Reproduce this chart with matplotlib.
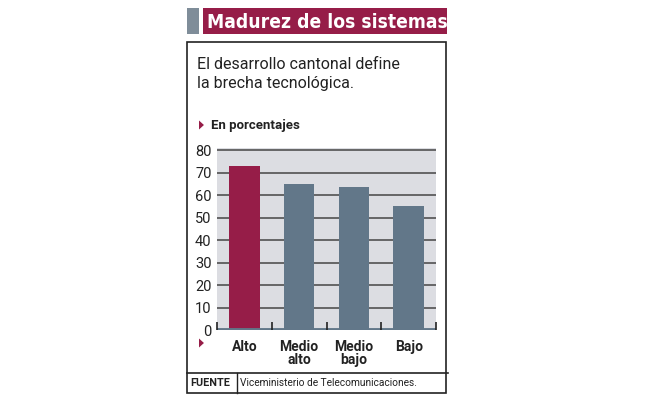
import matplotlib
matplotlib.use("Agg")
import matplotlib.pyplot as plt
from matplotlib.patches import Rectangle, Polygon
from matplotlib.lines import Line2D

# ── data ──
categories = ["Alto", "Medio\nalto", "Medio\nbajo", "Bajo"]
values = [73, 65, 63.5, 55]
y_ticks = [0, 10, 20, 30, 40, 50, 60, 70, 80]

title = "Madurez de los sistemas"
subtitle = "El desarrollo cantonal define\nla brecha tecnológica."
unit_label = "En porcentajes"
source = "Viceministerio de Telecomunicaciones."

# ── colours ──
MAGENTA = "#961d48"
SLATE = "#627789"
PANEL = "#dcdde2"
GRID = "#454545"
GREYBOX = "#7f8d99"
INK = "#222222"

plt.rcParams["font.family"] = ["Roboto", "DejaVu Sans"]

W, H = 653, 398
fig = plt.figure(figsize=(W / 100, H / 100), dpi=100)
fig.patch.set_facecolor("white")


def px(x, y):
    """pixel coords (origin top-left) -> figure fraction"""
    return x / W, 1 - y / H


def rect(x0, y0, x1, y1, **kw):
    (fx0, fy1), (fx1, fy0) = px(x0, y0), px(x1, y1)
    fig.add_artist(Rectangle((fx0, fy0), fx1 - fx0, fy1 - fy0,
                             transform=fig.transFigure, **kw))


def line(x0, y0, x1, y1, **kw):
    (a, b), (c, d) = px(x0, y0), px(x1, y1)
    fig.add_artist(Line2D([a, c], [b, d], transform=fig.transFigure, **kw))


def tri(x, y, s=4.5):
    pts = [px(x, y - s), px(x + s * 1.1, y), px(x, y + s)]
    fig.add_artist(Polygon(pts, closed=True, transform=fig.transFigure,
                           color=MAGENTA, lw=0))


# title bar
rect(187, 8, 199, 34, color=GREYBOX, lw=0)
rect(203, 8, 447, 34, color=MAGENTA, lw=0)
fig.text(*px(207, 22), title, color="white", fontsize=13.8, fontweight="bold",
         family="DejaVu Sans", fontstretch="condensed", va="center", ha="left")

# outer box
rect(187, 42, 446, 393, fill=False, edgecolor=INK, lw=1.2)
line(187, 373, 448, 373, color=INK, lw=1.2)
line(237, 373, 237, 393, color=INK, lw=1.0)

fig.text(*px(197, 74), subtitle, fontsize=11.5, color=INK,
         va="center", ha="left", linespacing=1.3)

tri(199, 125)
fig.text(*px(211, 125), unit_label, fontsize=9.5, fontweight="bold",
         color=INK, va="center", ha="left")

tri(199, 343)

fig.text(*px(190, 383), "FUENTE", fontsize=7.8, fontweight="bold",
         color=INK, va="center", ha="left")
fig.text(*px(240, 383), source, fontsize=7.3, color=INK,
         va="center", ha="left")

# ── chart ──
l, b = px(217, 330)
r, t = px(436, 148)
ax = fig.add_axes([l, b, r - l, t - b])
ax.set_facecolor(PANEL)
x = list(range(len(categories)))
ax.set_xlim(-0.5, len(categories) - 0.5)
ax.set_ylim(0, 80.9)

for v in y_ticks[1:]:
    ax.axhline(v, color=GRID, lw=1.1, zorder=1)

colors = [MAGENTA] + [SLATE] * (len(categories) - 1)
ax.bar(x, values, width=0.56, color=colors, zorder=2)

ax.axhline(0, color=SLATE, lw=3.5, zorder=3)
bounds = [i - 0.5 for i in range(len(categories) + 1)]
ax.vlines(bounds, 0, 3.6, color=INK, lw=1.2, zorder=4, clip_on=False)

for s in ax.spines.values():
    s.set_visible(False)
ax.tick_params(length=0)
ax.set_yticks(y_ticks)
ax.set_yticklabels([str(v) for v in y_ticks], fontsize=10.5, color=INK)
ax.tick_params(axis="y", pad=4)
ax.set_xticks(x)
ax.set_xticklabels(categories, fontsize=10, fontweight="bold", color=INK,
                   linespacing=0.95)
ax.tick_params(axis="x", pad=7)

fig.savefig("out.png", dpi=100)
